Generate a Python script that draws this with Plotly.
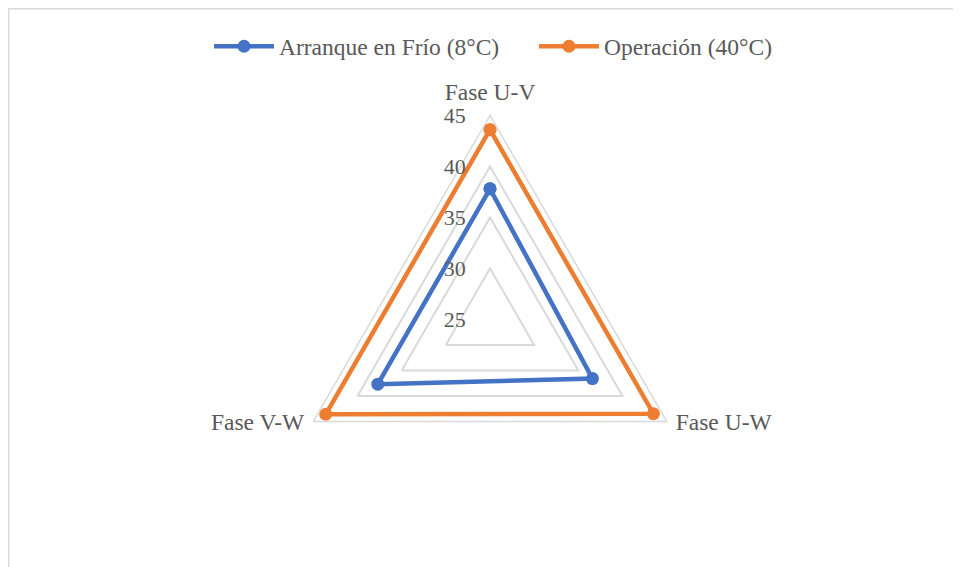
import plotly.graph_objects as go

categories = ["Fase U-V", "Fase U-W", "Fase V-W"]
frio = [37.8, 36.6, 37.7]
operacion = [43.6, 43.5, 43.6]
radial_ticks = [25, 30, 35, 40, 45]

W, H = 961, 567
OFF = 8  # page body margin
cx, cy, R = 490 - OFF, 319.4 - OFF, 204

fig = go.Figure()
fig.add_trace(go.Scatterpolar(
    r=frio + frio[:1], theta=categories + categories[:1],
    name="Arranque en Frío (8°C)", mode="lines+markers",
    line=dict(color="#4472C4", width=4.5), marker=dict(size=13, color="#4472C4"),
))
fig.add_trace(go.Scatterpolar(
    r=operacion + operacion[:1], theta=categories + categories[:1],
    name="Operación (40°C)", mode="lines+markers",
    line=dict(color="#ED7D31", width=4.5), marker=dict(size=13, color="#ED7D31"),
))

fam = "'Liberation Serif', 'Times New Roman', serif"
font = dict(family=fam, size=23.5, color="#595959")

# bottom labels get trailing blank lines so they sit a little higher (as in the reference)
cat_text = [categories[0]] + [c + "<br>\u00a0<br>\u00a0" for c in categories[1:]]

fig.update_layout(
    width=W, height=H,
    margin=dict(l=0, r=0, t=0, b=0),
    paper_bgcolor="white",
    font=font,
    polar=dict(
        domain=dict(x=[(cx - R) / W, (cx + R) / W], y=[1 - (cy + R) / H, 1 - (cy - R) / H]),
        gridshape="linear",
        bgcolor="white",
        angularaxis=dict(
            direction="clockwise", rotation=90,
            showgrid=False, showline=True, linecolor="#d9d9d9", linewidth=1.5,
            tickmode="array", tickvals=categories, ticktext=cat_text,
            ticks="outside", ticklen=5, tickcolor="rgba(0,0,0,0)",
            tickfont=dict(family=fam, size=23.5, color="#595959"),
        ),
        radialaxis=dict(
            range=[25, 45], tickvals=radial_ticks, ticktext=[str(v) for v in radial_ticks],
            angle=90, tickangle=90, side="counterclockwise",
            showline=False, ticks="outside", ticklen=16, tickcolor="rgba(0,0,0,0)",
            gridcolor="#d9d9d9", gridwidth=1.5,
            tickfont=dict(family=fam, size=22, color="#595959"),
        ),
    ),
    legend=dict(orientation="h", x=(209 - OFF) / W, xanchor="left",
                y=1 - (46.5 - OFF) / H, yanchor="middle",
                font=font, entrywidth=250, entrywidthmode="pixels", itemwidth=60),
    showlegend=True,
    shapes=[dict(type="rect", xref="paper", yref="paper",
                 x0=0.75 / W, x1=1.02, y0=-0.02, y1=1 - 0.75 / H,
                 line=dict(color="#d9d9d9", width=1.5))],
)

fig.write_html("out.html")
